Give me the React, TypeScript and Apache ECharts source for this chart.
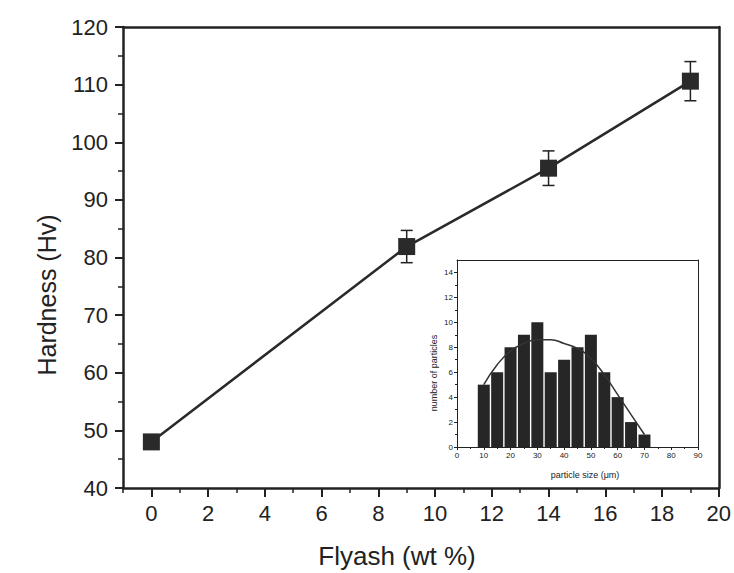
import React, { useEffect, useRef } from "react";
import * as echarts from "echarts";

const flyash = [0, 9, 14, 19];
const hardness = [48, 81.9, 95.5, 110.6];
const hardnessErr = [0, 2.8, 3, 3.4];
const xMajorTicks = [0, 2, 4, 6, 8, 10, 12, 14, 16, 18, 20];
const xMinorTicks = [-1, 1, 3, 5, 7, 9, 11, 13, 15, 17, 19];

const particleSize = [10, 15, 20, 25, 30, 35, 40, 45, 50, 55, 60, 65, 70];
const particleCount = [5, 6, 8, 9, 10, 6, 7, 8, 9, 6, 4, 2, 1];
const fitSize = [10, 15, 20, 25, 30, 35, 40, 45, 50, 55, 60, 65, 70];
const fitCount = [5.0, 6.6, 7.7, 8.3, 8.6, 8.6, 8.3, 7.9, 7.1, 5.8, 4.2, 2.6, 1.0];
const insetYLabels = [0, 2, 4, 6, 8, 10, 12, 14];
const insetYMinor = [1, 3, 5, 7, 9, 11, 13];

const INK = "#222";
const FONT = "Liberation Sans, Arial, sans-serif";

export default function App() {
  const ref = useRef<HTMLDivElement>(null);
  useEffect(() => {
    if (!ref.current) return;
    const chart = echarts.init(ref.current, null, { renderer: "svg" });
    const mainData = flyash.map((x, i) => [x, hardness[i]]);
    const errData = flyash
      .map((x, i) => [x, hardness[i] - hardnessErr[i], hardness[i] + hardnessErr[i]])
      .filter((d, i) => hardnessErr[i] > 0);
    const barData = particleSize.map((x, i) => [x, particleCount[i]]);
    const fitData = fitSize.map((x, i) => [x, fitCount[i]]);

    const line = (w: number) => ({ show: true, onZero: false, lineStyle: { color: INK, width: w } });
    const noLine = { show: false, onZero: false };

    const option: any = {
      animation: false,
      backgroundColor: "#fff",
      textStyle: { fontFamily: FONT },
      grid: [
        { left: 123, right: 14, top: 27, bottom: 85 },
        { left: 457, right: 36, top: 260, bottom: 126 },
      ],
      xAxis: [
        {
          type: "value", gridIndex: 0, min: -1, max: 20, position: "bottom",
          axisLine: line(2.5),
          axisTick: { show: true, customValues: xMajorTicks, length: 9, lineStyle: { color: INK, width: 2 } },
          axisLabel: { customValues: xMajorTicks, fontSize: 22, color: INK, margin: 14, fontFamily: FONT },
          splitLine: { show: false },
        },
        {
          type: "value", gridIndex: 0, min: -1, max: 20, position: "bottom",
          axisLine: noLine,
          axisTick: { show: true, customValues: xMinorTicks, length: 5, lineStyle: { color: INK, width: 1.5 } },
          axisLabel: { show: false },
          splitLine: { show: false },
        },
        {
          type: "value", gridIndex: 0, min: -1, max: 20, position: "top",
          axisLine: line(2.5),
          axisTick: { show: false }, axisLabel: { show: false }, splitLine: { show: false },
        },
        {
          type: "value", gridIndex: 1, min: 0, max: 90, interval: 10, position: "bottom",
          axisLine: line(1),
          axisTick: { show: true, length: 3, lineStyle: { color: INK } },
          minorTick: { show: true, splitNumber: 2, length: 2, lineStyle: { color: INK } },
          axisLabel: { fontSize: 8, color: INK, margin: 4, fontFamily: FONT },
          splitLine: { show: false },
        },
        {
          type: "value", gridIndex: 1, min: 0, max: 90, position: "top",
          axisLine: line(1),
          axisTick: { show: false }, axisLabel: { show: false }, splitLine: { show: false },
        },
      ],
      yAxis: [
        {
          type: "value", gridIndex: 0, min: 40, max: 120, interval: 10, position: "left",
          axisLine: line(2.5),
          axisTick: { show: true, length: 8, lineStyle: { color: INK, width: 2 } },
          minorTick: { show: true, splitNumber: 2, length: 5, lineStyle: { color: INK, width: 1.5 } },
          axisLabel: { fontSize: 22, color: INK, margin: 15, fontFamily: FONT },
          splitLine: { show: false },
        },
        {
          type: "value", gridIndex: 0, min: 40, max: 120, position: "right",
          axisLine: line(2.5),
          axisTick: { show: false }, axisLabel: { show: false }, splitLine: { show: false },
        },
        {
          type: "value", gridIndex: 1, min: 0, max: 15, position: "left",
          axisLine: line(1),
          axisTick: { show: true, customValues: insetYLabels, length: 3, lineStyle: { color: INK } },
          axisLabel: { customValues: insetYLabels, fontSize: 8, color: INK, margin: 4, fontFamily: FONT },
          splitLine: { show: false },
        },
        {
          type: "value", gridIndex: 1, min: 0, max: 15, position: "left",
          axisLine: noLine,
          axisTick: { show: true, customValues: insetYMinor, length: 2, lineStyle: { color: INK } },
          axisLabel: { show: false }, splitLine: { show: false },
        },
        {
          type: "value", gridIndex: 1, min: 0, max: 15, position: "right",
          axisLine: line(1),
          axisTick: { show: false }, axisLabel: { show: false }, splitLine: { show: false },
        },
      ],
      series: [
        {
          type: "line", xAxisIndex: 0, yAxisIndex: 0, data: mainData,
          symbol: "rect", symbolSize: 17,
          lineStyle: { color: "#2a2a2a", width: 2.5 },
          itemStyle: { color: "#2a2a2a" },
          z: 3,
        },
        {
          type: "custom", xAxisIndex: 0, yAxisIndex: 0, data: errData, z: 2,
          renderItem: (params: any, api: any) => {
            const x = api.value(0);
            const lo = api.coord([x, api.value(1)]);
            const hi = api.coord([x, api.value(2)]);
            const cap = 6;
            const style = { stroke: INK, lineWidth: 1.5 };
            return {
              type: "group",
              children: [
                { type: "line", shape: { x1: lo[0], y1: lo[1], x2: hi[0], y2: hi[1] }, style },
                { type: "line", shape: { x1: lo[0] - cap, y1: lo[1], x2: lo[0] + cap, y2: lo[1] }, style },
                { type: "line", shape: { x1: hi[0] - cap, y1: hi[1], x2: hi[0] + cap, y2: hi[1] }, style },
              ],
            };
          },
        },
        {
          type: "bar", xAxisIndex: 3, yAxisIndex: 2, data: barData,
          barWidth: 12, itemStyle: { color: "#262626" },
        },
        {
          type: "line", xAxisIndex: 3, yAxisIndex: 2, data: fitData,
          smooth: true, symbol: "none",
          lineStyle: { color: "#333", width: 1.5 }, z: 4,
        },
      ],
      graphic: [
        {
          type: "text", x: 47, y: 295, rotation: Math.PI / 2,
          style: { text: "Hardness (Hv)", fontSize: 25, fill: INK, fontFamily: FONT, align: "center", verticalAlign: "middle" },
        },
        {
          type: "text", x: 397, y: 556,
          style: { text: "Flyash (wt %)", fontSize: 26, fill: INK, fontFamily: FONT, align: "center", verticalAlign: "middle" },
        },
        {
          type: "text", x: 434, y: 373, rotation: Math.PI / 2,
          style: { text: "number of particles", fontSize: 9, fill: INK, fontFamily: FONT, align: "center", verticalAlign: "middle" },
        },
        {
          type: "text", x: 585, y: 475,
          style: { text: "particle size (μm)", fontSize: 9, fill: INK, fontFamily: FONT, align: "center", verticalAlign: "middle" },
        },
      ],
    };
    chart.setOption(option);
    return () => chart.dispose();
  }, []);
  return <div ref={ref} style={{ width: 734, height: 573, position: "absolute", left: 0, top: 0 }} />;
}
